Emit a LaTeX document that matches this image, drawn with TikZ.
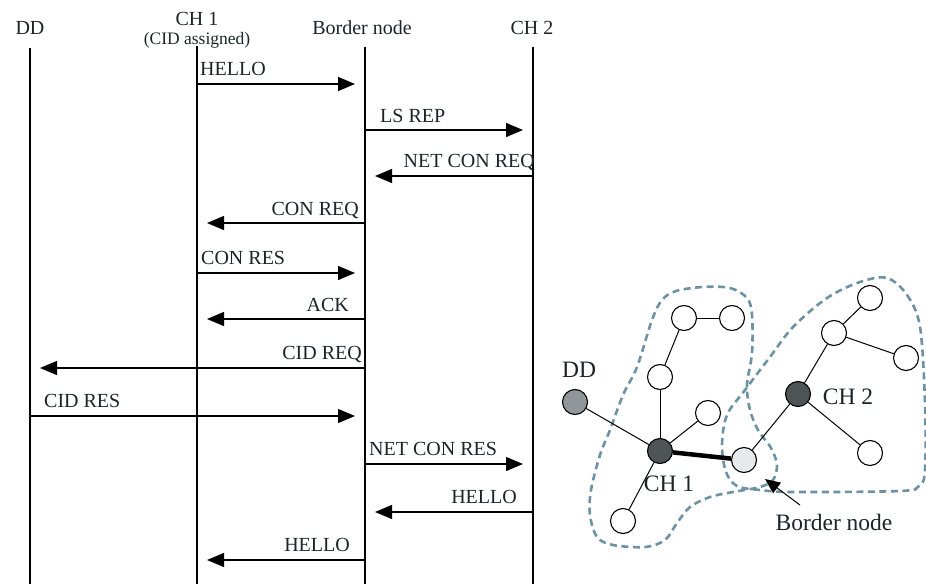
\documentclass[tikz,border=0pt]{standalone}
\usepackage{fontspec}
\setmainfont{Liberation Serif}
\usetikzlibrary{arrows.meta}
\definecolor{txt}{RGB}{28,36,40}
\definecolor{clus}{RGB}{108,146,164}
\definecolor{chfill}{RGB}{78,84,86}
\definecolor{ddfill}{RGB}{145,150,154}
\definecolor{bnfill}{RGB}{230,234,236}
\begin{document}
\begin{tikzpicture}[x=1pt,y=-1pt,
  life/.style={line width=1.3pt, draw=black},
  msg/.style={line width=1.3pt, draw=black, -{Triangle[length=17pt,width=14pt]}, shorten >=10pt},
  lbl/.style={font=\fontsize{20}{24}\selectfont, text=txt, inner sep=0pt},
  hdr/.style={font=\fontsize{20}{24}\selectfont, text=txt, inner sep=0pt, anchor=base},
  nlbl/.style={font=\fontsize{23.5}{28}\selectfont, text=txt, inner sep=0pt},
  nd/.style={circle, draw=black, line width=1.1pt, fill=white, minimum size=25pt, inner sep=0pt},
  edge/.style={line width=1pt, draw=black},
  cluster/.style={draw=clus, line width=2.6pt, dash pattern=on 7pt off 4.5pt}
]
\useasboundingbox (0,0) rectangle (926,586);

% ---------- headers ----------
\node[hdr] (hDD) at (30,35) {DD};
\node[hdr] (hCH1) at (197,26) {CH 1};
\node[hdr, font=\fontsize{17.5}{21}\selectfont] (hCID) at (197,45) {(CID assigned)};
\node[hdr] (hBN) at (362,35) {Border node};
\node[hdr] (hCH2) at (532,35) {CH 2};

% ---------- lifelines ----------
\coordinate (L1t) at (30,48);  \coordinate (L1b) at (30,584);
\coordinate (L2t) at (197,46); \coordinate (L2b) at (197,584);
\coordinate (L3t) at (365,47); \coordinate (L3b) at (365,584);
\coordinate (L4t) at (533,47); \coordinate (L4b) at (533,584);
\draw[life] (L1t) -- (L1b);
\draw[life] (L2t) -- (L2b);
\draw[life] (L3t) -- (L3b);
\draw[life] (L4t) -- (L4b);

% ---------- messages ----------
\draw[msg] (L2t |- 0,84) -- (L3t |- 0,84);
\node[lbl, anchor=base west] (t1) at (200,76) {HELLO};

\draw[msg] (L3t |- 0,130) -- (L4t |- 0,130);
\node[lbl, anchor=base west] (t2) at (380,122) {LS REP};

\draw[msg] (L4t |- 0,176) -- (L3t |- 0,176);
\node[lbl, anchor=base east] (t3) at (535,167) {NET CON REQ};

\draw[msg] (L3t |- 0,223) -- (L2t |- 0,223);
\node[lbl, anchor=base east] (t4) at (359,215) {CON REQ};

\draw[msg] (L2t |- 0,273) -- (L3t |- 0,273);
\node[lbl, anchor=base west] (t5) at (201,264) {CON RES};

\draw[msg] (L3t |- 0,319) -- (L2t |- 0,319);
\node[lbl, anchor=base east] (t6) at (349,311) {ACK};

\draw[msg] (L3t |- 0,368) -- (L1t |- 0,368);
\node[lbl, anchor=base east] (t7) at (362,359) {CID REQ};

\draw[msg] (L1t |- 0,416) -- (L3t |- 0,416);
\node[lbl, anchor=base west] (t8) at (44,407) {CID RES};

\draw[msg] (L3t |- 0,464) -- (L4t |- 0,464);
\node[lbl, anchor=base west] (t9) at (369,455) {NET CON RES};

\draw[msg] (L4t |- 0,512) -- (L3t |- 0,512);
\node[lbl, anchor=base east] (t10) at (517,503) {HELLO};

\draw[msg] (L3t |- 0,560) -- (L2t |- 0,560);
\node[lbl, anchor=base east] (t11) at (350,551) {HELLO};

% ---------- network clusters ----------
\draw[cluster] plot[smooth cycle, tension=0.55] coordinates {
  (703,287) (730,288) (747,298) (752,315) (752,353) (747,385) (750,410)
  (758,430) (771,448) (777,465) (773,480) (760,487) (733,492) (710,497)
  (690,507) (677,523) (665,540) (645,547) (613,545) (597,537) (590,515)
  (591,490) (600,455) (610,430) (623,395) (637,367) (652,320) (662,300) (676,291)};
\draw[cluster] plot[smooth cycle, tension=0.55] coordinates {
  (887,278) (907,295) (920,327) (925,403) (925,470) (919,486) (900,491)
  (793,492) (760,490) (737,486) (726,472) (722,445) (727,415) (745,390)
  (770,357) (793,327) (827,298) (860,282)};

% ---------- network nodes ----------
\node[nd, fill=ddfill] (nDD) at (575,402) {};
\node[nd, fill=chfill] (nCH1) at (660,451) {};
\node[nd] (nA) at (660,377) {};
\node[nd] (nB) at (684,318) {};
\node[nd] (nC) at (732,318) {};
\node[nd] (nD) at (708,413) {};
\node[nd] (nE) at (623,521) {};
\node[nd, fill=bnfill] (nBN) at (744,460) {};
\node[nd, fill=chfill] (nCH2) at (798,394) {};
\node[nd] (nF) at (834,333) {};
\node[nd] (nG) at (870,298) {};
\node[nd] (nH) at (906,358) {};
\node[nd] (nI) at (870,453) {};

\draw[edge] (nDD) -- (nCH1);
\draw[edge] (nCH1) -- (nA);
\draw[edge] (nA) -- (nB);
\draw[edge] (nB) -- (nC);
\draw[edge] (nCH1) -- (nD);
\draw[edge] (nCH1) -- (nE);
\draw[line width=4.5pt] (nCH1) -- (nBN);
\draw[edge] (nBN) -- (nCH2);
\draw[edge] (nCH2) -- (nF);
\draw[edge] (nF) -- (nG);
\draw[edge] (nF) -- (nH);
\draw[edge] (nCH2) -- (nI);

% ---------- network labels ----------
\node[nlbl] (lDD) at (579,370) {DD};
\node[nlbl] (lCH1) at (669,484) {CH 1};
\node[nlbl] (lCH2) at (848,397) {CH 2};
\node[nlbl] (lBN) at (834,522) {Border node};
\coordinate (ptrS) at (800,505);
\coordinate (ptrE) at (765,479);
\draw[line width=1pt, -{Triangle[length=15pt,width=13pt]}] (ptrS) -- (ptrE);
\end{tikzpicture}
\end{document}
